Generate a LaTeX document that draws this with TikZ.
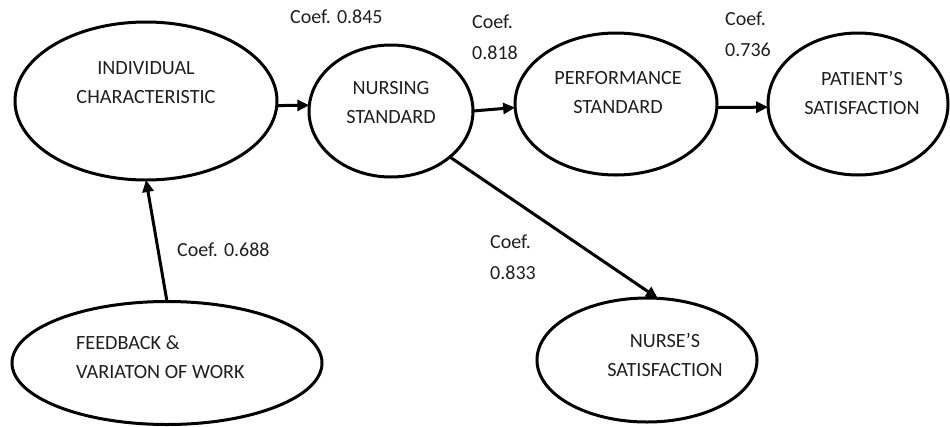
\documentclass[tikz,border=0pt]{standalone}
\usepackage{fontspec}
\setmainfont{Carlito}
\usetikzlibrary{shapes.geometric,arrows.meta}
\begin{document}
\begin{tikzpicture}[x=1pt,y=-1pt,
  oval/.style={draw=black,line width=3pt,ellipse,inner sep=0pt,outer sep=0pt},
  lbl/.style={inner sep=0pt,align=center,font=\fontsize{20.2}{29}\selectfont,text=black!88},
  coef/.style={inner sep=0pt,align=left,anchor=west,font=\fontsize{20}{31}\selectfont,text=black!88},
  arr/.style={line width=3pt,-{Triangle[length=12pt,width=11pt]}}]
\useasboundingbox (0,0) rectangle (950,426);
% ellipses
\node[oval,minimum width=262pt,minimum height=158pt] (ic) at (146,101) {};
\node[oval,minimum width=164pt,minimum height=132pt] (ns) at (391,111) {};
\node[oval,minimum width=202pt,minimum height=142pt] (ps) at (616,104) {};
\node[oval,minimum width=180pt,minimum height=142pt] (pas) at (858,104) {};
\node[oval,minimum width=310pt,minimum height=123pt] (fb) at (167,363) {};
\node[oval,minimum width=220pt,minimum height=124pt] (nus) at (647,360) {};
% texts
\node[lbl] (ict) at (146,83) {INDIVIDUAL\\CHARACTERISTIC};
\node[lbl] (nst) at (391,102.5) {NURSING\\STANDARD};
\node[lbl] (pst) at (618,92.5) {PERFORMANCE\\STANDARD};
\node[lbl] (past) at (862,92.5) {PATIENT’S\\SATISFACTION};
\node[lbl,align=left,anchor=west] (fbt) at (76,357.5) {FEEDBACK \&\\VARIATON OF WORK};
\node[lbl] (nust) at (665,355) {NURSE’S\\SATISFACTION};
% coefficients
\node[coef] (c1) at (290,17) {Coef. 0.845};
\node[coef] (c2) at (472,37.5) {Coef.\\0.818};
\node[coef] (c3) at (725,34) {Coef.\\0.736};
\node[coef] (c4) at (177,250) {Coef. 0.688};
\node[coef] (c5) at (490,257.5) {Coef.\\0.833};
% connectors
\draw[arr] (ic.-2) -- (ns.176);
\draw[arr] (ns.east) -- (ps.182);
\draw[arr] (ps.-2) -- (pas.182);
\draw[arr] (fb.north) -- (ic.south);
\draw[arr] (ns.-38) -- (nus.80);
\end{tikzpicture}
\end{document}
